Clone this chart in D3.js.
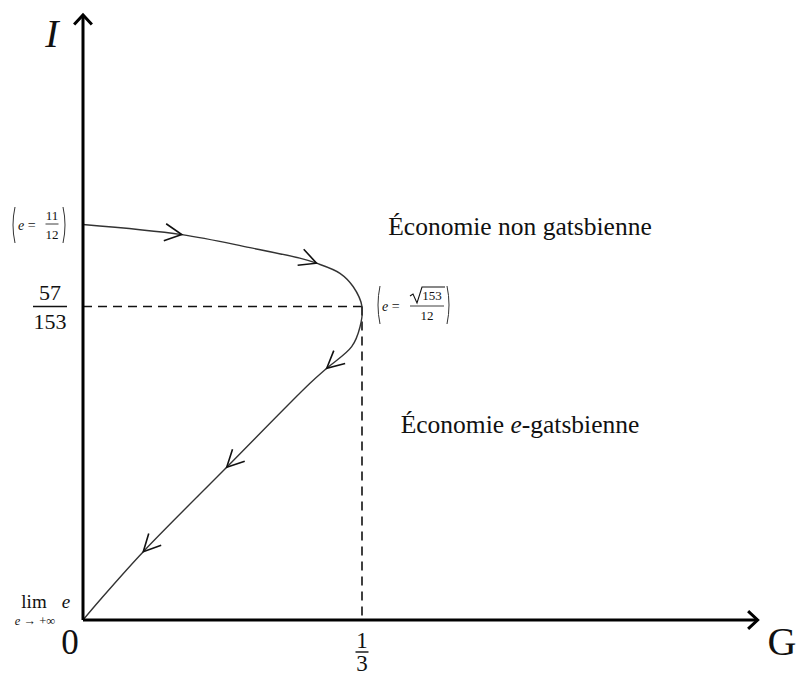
<!DOCTYPE html>
<html>
<head>
<meta charset="utf-8">
<script src="https://cdn.jsdelivr.net/npm/d3@7"></script>
<style>
  html, body { margin: 0; padding: 0; background: #fff; }
  svg { display: block; }
  text { font-family: "Liberation Serif", "DejaVu Serif", serif; fill: #111; }
</style>
</head>
<body>
<svg id="chart" width="801" height="675"></svg>
<script>
// Parametric path of the economy in the (G, I) plane, from e = 11/12 to e → +∞
const curveG = [0, 0.118, 0.1995, 0.259, 0.279, 0.307, 0.3229, 1 / 3, 0.331, 0.321, 0.2912, 0.2712, 0.1717, 0.072, 0.0203, 0];
const curveI = [0.470, 0.458, 0.4425, 0.430, 0.424, 0.412, 0.396, 57 / 153, 0.3485, 0.3248, 0.2991, 0.2813, 0.1815, 0.0812, 0.0238, 0];
// Indices of curve points carrying a direction arrow
const arrowAt = [1, 4, 10, 12, 13];
// Turning point and axis extents
const peakG = 1 / 3, peakI = 57 / 153;
const axisMaxG = 0.806, axisMaxI = 0.719;

const svg = d3.select("#chart");
const x = d3.scaleLinear().domain([0, 1]).range([83, 83 + 837]);
const y = d3.scaleLinear().domain([0, 1]).range([620, 620 - 841.5]);

const pts = curveG.map((g, i) => [x(g), y(curveI[i])]);

// Dashed guides to the turning point
const dash = "9,6";
svg.append("line")
  .attr("x1", x(0)).attr("y1", y(peakI)).attr("x2", x(peakG)).attr("y2", y(peakI))
  .attr("stroke", "#111").attr("stroke-width", 1.6).attr("stroke-dasharray", dash);
svg.append("line")
  .attr("x1", x(peakG)).attr("y1", y(peakI)).attr("x2", x(peakG)).attr("y2", y(0))
  .attr("stroke", "#111").attr("stroke-width", 1.6).attr("stroke-dasharray", dash);

// Curve
svg.append("path")
  .datum(pts)
  .attr("d", d3.line().curve(d3.curveCatmullRom.alpha(0.5)))
  .attr("fill", "none").attr("stroke", "#333").attr("stroke-width", 1.4);

// Open arrowheads along the curve
function chevron(tip, dir, len, half) {
  const a = Math.atan2(dir[1], dir[0]);
  const p1 = [tip[0] - len * Math.cos(a - half), tip[1] - len * Math.sin(a - half)];
  const p2 = [tip[0] - len * Math.cos(a + half), tip[1] - len * Math.sin(a + half)];
  return `M${p1[0]},${p1[1]}L${tip[0]},${tip[1]}L${p2[0]},${p2[1]}`;
}
arrowAt.forEach(i => {
  const d = [pts[i + 1][0] - pts[i - 1][0], pts[i + 1][1] - pts[i - 1][1]];
  svg.append("path")
    .attr("d", chevron(pts[i], d, 19, 0.47))
    .attr("fill", "none").attr("stroke", "#111").attr("stroke-width", 1.6);
});

// Axes
const ax = svg.append("g").attr("stroke", "#000").attr("fill", "none");
ax.append("line").attr("x1", x(0)).attr("y1", y(0)).attr("x2", x(axisMaxG)).attr("y2", y(0)).attr("stroke-width", 3);
ax.append("line").attr("x1", x(0)).attr("y1", y(0)).attr("x2", x(0)).attr("y2", y(axisMaxI)).attr("stroke-width", 3);
ax.append("path").attr("d", chevron([x(axisMaxG), y(0)], [1, 0], 13, 0.75)).attr("stroke-width", 3);
ax.append("path").attr("d", chevron([x(0), y(axisMaxI)], [0, -1], 13, 0.75)).attr("stroke-width", 3);

// Axis names
svg.append("text").attr("x", 52).attr("y", 47).attr("text-anchor", "middle")
  .attr("font-size", 40).attr("font-style", "italic").text("I");
svg.append("text").attr("x", 782).attr("y", 655).attr("text-anchor", "middle")
  .attr("font-size", 40).text("G");

// Helpers for stacked fractions
function fraction(cx, cy, num, den, size, barW, gapN, gapD) {
  const g = svg.append("g");
  g.append("text").attr("x", cx).attr("y", cy - gapN).attr("text-anchor", "middle")
    .attr("font-size", size).text(num);
  g.append("line").attr("x1", cx - barW / 2).attr("x2", cx + barW / 2)
    .attr("y1", cy).attr("y2", cy).attr("stroke", "#111").attr("stroke-width", size / 16);
  g.append("text").attr("x", cx).attr("y", cy + gapD).attr("text-anchor", "middle")
    .attr("font-size", size).text(den);
  return g;
}

// Tick labels
svg.append("text").attr("x", 70).attr("y", 654).attr("text-anchor", "middle")
  .attr("font-size", 35).text("0");
fraction(x(peakG), 652, "1", "3", 23, 13, 4, 19);
fraction(50, y(peakI), "57", "153", 22, 34, 7, 22);

// Limit label at the origin
const lim = svg.append("g");
lim.append("text").attr("x", 34).attr("y", 608).attr("text-anchor", "middle").attr("font-size", 19).text("lim");
lim.append("text").attr("x", 66).attr("y", 608).attr("text-anchor", "middle").attr("font-size", 19)
  .attr("font-style", "italic").text("e");
lim.append("text").attr("x", 35).attr("y", 625).attr("text-anchor", "middle").attr("font-size", 12.5)
  .html('<tspan font-style="italic">e</tspan> → +∞');

// Parenthesised parameter labels
function paren(x0, x1, yc, h) {
  const g = svg.append("g").attr("fill", "none").attr("stroke", "#333").attr("stroke-width", 1);
  g.append("path").attr("d", `M${x0 + 3},${yc - h / 2} Q${x0 - 1},${yc} ${x0 + 3},${yc + h / 2}`);
  g.append("path").attr("d", `M${x1 - 3},${yc - h / 2} Q${x1 + 1},${yc} ${x1 - 3},${yc + h / 2}`);
}
// e = 11/12
paren(12, 66, 225, 36);
svg.append("text").attr("x", 18).attr("y", 230).attr("font-size", 14)
  .html('<tspan font-style="italic">e</tspan> =');
fraction(52, 224, "11", "12", 13, 13, 4, 15);

// e = sqrt(153)/12
paren(377, 450, 305, 38);
svg.append("text").attr("x", 382).attr("y", 311).attr("font-size", 14)
  .html('<tspan font-style="italic">e</tspan> =');
const sq = fraction(427, 306, "153", "12", 13, 34, 6, 14);
sq.select("text").attr("x", 432);
svg.append("path").attr("d", "M410,296 L413,294 L417,303 L422,287 L445,287")
  .attr("fill", "none").attr("stroke", "#111").attr("stroke-width", 1.1);

// Region labels
svg.append("text").attr("x", 520).attr("y", 235).attr("text-anchor", "middle")
  .attr("font-size", 25.5).text("Économie non gatsbienne");
svg.append("text").attr("x", 520).attr("y", 433).attr("text-anchor", "middle")
  .attr("font-size", 25.5)
  .html('Économie <tspan font-style="italic">e</tspan>-gatsbienne');
</script>
</body>
</html>
